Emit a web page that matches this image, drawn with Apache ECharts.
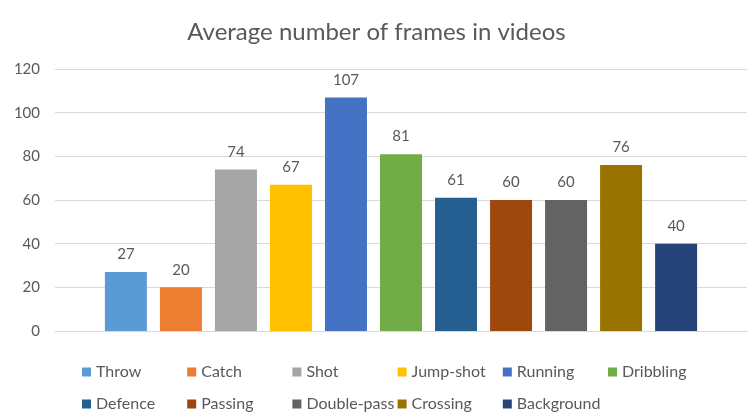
<!DOCTYPE html>
<html>
<head>
<meta charset="utf-8">
<script src="https://cdn.jsdelivr.net/npm/echarts@6/dist/echarts.min.js"></script>
<style>
  html, body { margin: 0; padding: 0; background: #fff; }
  #chart { width: 753px; height: 420px; }
</style>
</head>
<body>
<div id="chart"></div>
<script>
// Action classes and their mean clip length in frames
const actions = ['Throw', 'Catch', 'Shot', 'Jump-shot', 'Running', 'Dribbling',
                 'Defence', 'Passing', 'Double-pass', 'Crossing', 'Background'];
const avgFrames = [27, 20, 74, 67, 107, 81, 61, 60, 60, 76, 40];
const palette = ['#5B9BD5', '#ED7D31', '#A5A5A5', '#FFC000', '#4472C4', '#70AD47',
                 '#255E91', '#9E480E', '#636363', '#997300', '#264478'];
const yTicks = { min: 0, max: 120, interval: 20 };

const FONT = 'Lato';
const TEXT = '#595959';

const series = actions.map((name, i) => ({
  name: name,
  type: 'bar',
  data: [avgFrames[i]],
  barWidth: 42,
  barGap: '31%',
  itemStyle: { color: palette[i] },
  label: {
    show: true,
    position: 'top',
    distance: 10,
    color: TEXT,
    fontFamily: FONT,
    fontSize: 15
  }
}));

// One legend component per entry, laid out as a 6-column grid
const LEGEND_COLS = 6;
const legends = actions.map((name, i) => ({
  left: 77 + (i % LEGEND_COLS) * 105.2,
  top: 359 + Math.floor(i / LEGEND_COLS) * 32,
  icon: 'rect',
  itemWidth: 9,
  itemHeight: 9,
  data: [name],
  textStyle: { color: TEXT, fontFamily: FONT, fontSize: 16 }
}));

const chart = echarts.init(document.getElementById('chart'), null, { renderer: 'canvas' });
chart.setOption({
  animation: false,
  color: palette,
  title: {
    text: 'Average number of frames in videos',
    left: 'center',
    top: 15,
    textStyle: { color: TEXT, fontFamily: FONT, fontSize: 24, fontWeight: 'normal' }
  },
  grid: { left: 55, right: 6, top: 69, bottom: 89 },
  legend: legends,
  xAxis: {
    type: 'category',
    data: [''],
    axisTick: { show: false },
    axisLabel: { show: false },
    axisLine: { lineStyle: { color: '#D9D9D9' } }
  },
  yAxis: {
    type: 'value',
    min: yTicks.min,
    max: yTicks.max,
    interval: yTicks.interval,
    axisLabel: { color: TEXT, fontFamily: FONT, fontSize: 15, margin: 15 },
    axisLine: { show: false },
    axisTick: { show: false },
    splitLine: { lineStyle: { color: '#D9D9D9' } }
  },
  series: series
});
</script>
</body>
</html>
